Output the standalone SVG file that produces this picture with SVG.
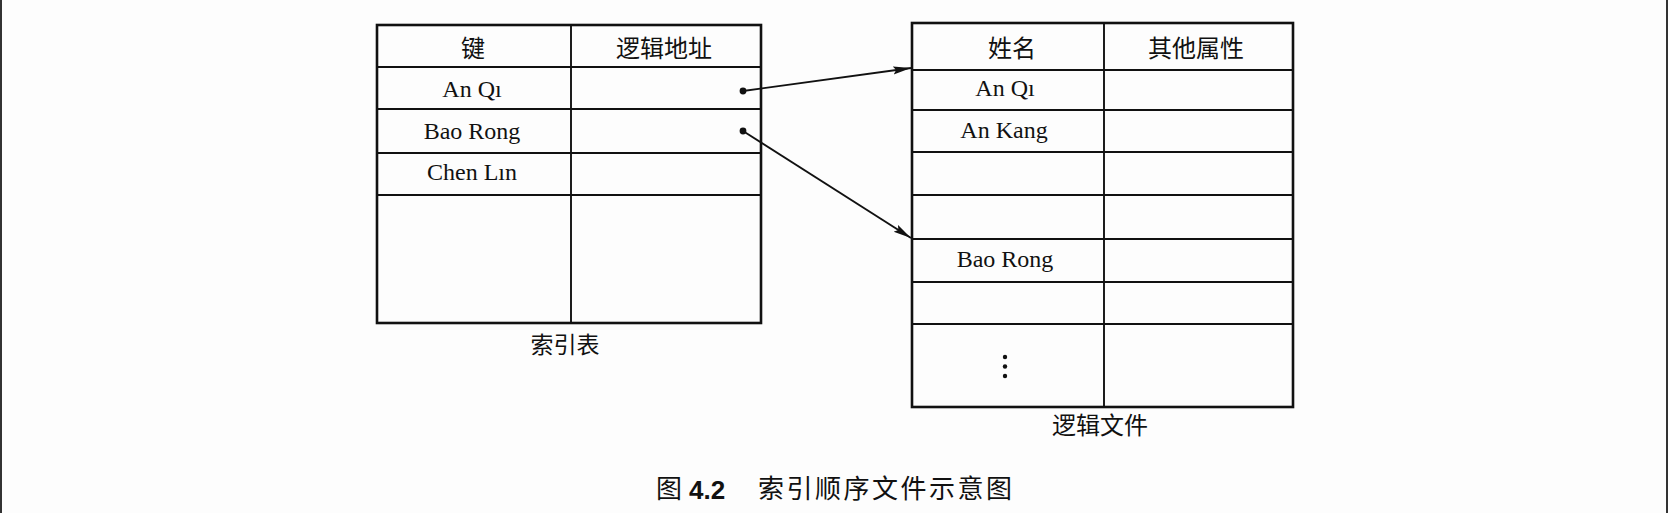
<svg xmlns="http://www.w3.org/2000/svg" width="1668" height="513" viewBox="0 0 1668 513">
<defs>
<style>
.outer{fill:none;stroke:#111;stroke-width:2.6}
.inner{fill:none;stroke:#111;stroke-width:1.9}
.lat{font-family:"Liberation Serif","Times New Roman",serif;font-size:24px;fill:#111;text-anchor:middle}
.cjk{font-family:"Noto Sans CJK SC","Noto Sans",sans-serif;font-size:24px;fill:#111;text-anchor:middle}
.cap{font-family:"Noto Sans CJK SC","Noto Sans",sans-serif;font-size:26px;fill:#111;letter-spacing:2.5px}
.conn{fill:none;stroke:#111;stroke-width:1.9}
.dot{fill:#111}
</style>
<marker id="ah" markerUnits="userSpaceOnUse" markerWidth="20" markerHeight="10" refX="18" refY="4" orient="auto">
<path d="M0,0 L18,4 L0,8 L3,4 z" fill="#111"/>
</marker>
</defs>
<rect x="0" y="0" width="1668" height="513" fill="#fdfdfd"/>
<line x1="1" y1="0" x2="1" y2="513" stroke="#333" stroke-width="2"/>
<line x1="1667" y1="0" x2="1667" y2="513" stroke="#333" stroke-width="2"/>

<g id="index-table">
<rect class="outer" x="377" y="25" width="384" height="298"/>
<line class="inner" x1="571" y1="25" x2="571" y2="323"/>
<line class="inner" x1="377" y1="67" x2="761" y2="67"/>
<line class="inner" x1="377" y1="109" x2="761" y2="109"/>
<line class="inner" x1="377" y1="153" x2="761" y2="153"/>
<line class="inner" x1="377" y1="195" x2="761" y2="195"/>
<text class="cjk" x="473" y="57">键</text>
<text class="cjk" x="664" y="57">逻辑地址</text>
<text class="lat" x="472" y="97">An Qı</text>
<text class="lat" x="472" y="139">Bao Rong</text>
<text class="lat" x="472" y="180">Chen Lın</text>
<text class="cjk" x="565" y="353" style="font-size:23px">索引表</text>
</g>

<g id="logical-file">
<rect class="outer" x="912" y="23" width="381" height="384"/>
<line class="inner" x1="1104" y1="23" x2="1104" y2="407"/>
<line class="inner" x1="912" y1="70" x2="1293" y2="70"/>
<line class="inner" x1="912" y1="110" x2="1293" y2="110"/>
<line class="inner" x1="912" y1="152" x2="1293" y2="152"/>
<line class="inner" x1="912" y1="195" x2="1293" y2="195"/>
<line class="inner" x1="912" y1="239" x2="1293" y2="239"/>
<line class="inner" x1="912" y1="282" x2="1293" y2="282"/>
<line class="inner" x1="912" y1="324" x2="1293" y2="324"/>
<text class="cjk" x="1012" y="57">姓名</text>
<text class="cjk" x="1196" y="57">其他属性</text>
<text class="lat" x="1005" y="96">An Qı</text>
<text class="lat" x="1004" y="138">An Kang</text>
<text class="lat" x="1005" y="267">Bao Rong</text>
<circle class="dot" cx="1005" cy="357" r="2.2"/>
<circle class="dot" cx="1005" cy="366.5" r="2.2"/>
<circle class="dot" cx="1005" cy="376" r="2.2"/>
<text class="cjk" x="1100" y="434">逻辑文件</text>
</g>

<g id="connectors">
<circle class="dot" cx="743" cy="91" r="3.4"/>
<circle class="dot" cx="743" cy="131" r="3.4"/>
<line class="conn" x1="743" y1="91" x2="911" y2="68" marker-end="url(#ah)"/>
<line class="conn" x1="743" y1="131" x2="911" y2="238" marker-end="url(#ah)"/>
</g>

<g id="caption">
<text class="cap" x="656" y="498">图</text>
<text x="689" y="499" style="font-family:'Liberation Sans',Arial,sans-serif;font-weight:bold;font-size:26px;fill:#111">4.2</text>
<text class="cap" x="758" y="498">索引顺序文件示意图</text>
</g>
</svg>
